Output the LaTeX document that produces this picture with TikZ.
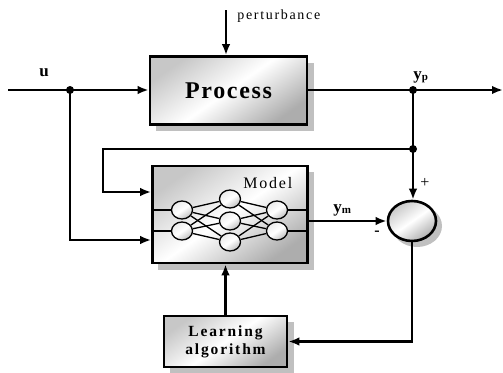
\documentclass[tikz,border=0pt]{standalone}
\usepackage{fontspec}
\setmainfont{Liberation Serif}
\newfontfamily\spfont[LetterSpace=12]{Liberation Serif}
\usetikzlibrary{arrows.meta,shapes.geometric}
\definecolor{shadowgray}{RGB}{192,192,192}
\begin{document}
\begin{tikzpicture}[x=1pt,y=-1pt,
  line width=2.8pt,
  arr/.style={-{Latex[length=11pt,width=8.5pt]}},
  box/.style={draw=black, line width=2.6pt, inner sep=0pt},
  boxshade/.style={top color=black!22, bottom color=black!32, middle color=white, shading angle=35, draw=none},
  neuron/.style={ellipse, draw=black, line width=1.3pt, minimum width=21pt, minimum height=18pt, inner sep=0pt, top color=black!8, bottom color=black!25, middle color=white, shading angle=35},
  nn/.style={line width=1.3pt},
  dot/.style={circle, fill=black, inner sep=0pt, minimum size=8pt},
  lbl/.style={inner sep=0pt}
]
\useasboundingbox (0,0) rectangle (503,372);

% shadows
\fill[shadowgray] (156,63) rectangle (314,131);
\fill[shadowgray] (158,172) rectangle (314,270);
\fill[shadowgray] (170,322) rectangle (294,373);
\fill[shadowgray] (417,226) ellipse (25 and 21);

% shaded faces
\shade[boxshade] (150,57) rectangle (307,124);
\shade[boxshade] (152.5,166) rectangle (307.5,263);
\shade[boxshade] (164,316) rectangle (287,367);
\shade[boxshade] (412,221) ellipse (24 and 20);

% blocks
\node[box, minimum width=157pt, minimum height=68pt] (process) at (228.5,90.5)
  {\spfont\addfontfeature{LetterSpace=7}\fontsize{24}{24}\selectfont\bfseries Process};
\node[box, minimum width=155pt, minimum height=97pt] (model) at (230,214.5) {};
\node[box, minimum width=123pt, minimum height=51pt, align=center,
  font=\spfont\fontsize{15.5}{18}\selectfont\bfseries] (learning) at (225.5,341.5)
  {Learning\\algorithm};
\node[box, ellipse, minimum width=48pt, minimum height=40pt] (sum) at (412,221) {};

% model label
\node[lbl, anchor=base west] (lmodel) at (242,188) {\spfont\addfontfeature{LetterSpace=11}\fontsize{16}{16}\selectfont Model};

% neural network
\node[neuron] (i1) at (182,210) {};
\node[neuron] (i2) at (182,231) {};
\node[neuron] (h1) at (230,199) {};
\node[neuron] (h2) at (230,221) {};
\node[neuron] (h3) at (230,242) {};
\node[neuron] (o1) at (277,210) {};
\node[neuron] (o2) at (277,231) {};
\foreach \a in {i1,i2} \foreach \b in {h1,h2,h3} \draw[nn] (\a) -- (\b);
\foreach \a in {h1,h2,h3} \foreach \b in {o1,o2} \draw[nn] (\a) -- (\b);
\draw[nn] (model.west |- i1) -- (i1);
\draw[nn] (model.west |- i2) -- (i2);
\draw[nn] (o1) -- (model.east |- o1);
\draw[nn] (o2) -- (model.east |- o2);

% coordinates
\coordinate (uin) at (8,90);
\coordinate (ju) at (70,90);
\coordinate (jp) at (413,90);
\coordinate (out) at (503,90);
\coordinate (jfb) at (413,149);
\coordinate (fbc) at (103,149);
\coordinate (pt) at (226,10);
\coordinate (ya) at (0,192);
\coordinate (yb) at (0,240);

% connectors
\draw (uin) -- (ju);
\draw[arr] (ju) -- (process.west |- ju);
\draw (process.east |- jp) -- (jp);
\draw[arr] (jp) -- (out);
\draw[arr] (pt) -- (pt |- process.north);
\draw (jp) -- (jfb);
\draw[arr] (jfb) -- (jfb |- sum.north);
\draw[arr] (jfb) -- (fbc) |- (model.west |- ya);
\draw[arr] (ju) |- (model.west |- yb);
\draw[arr] (model.east |- sum) -- (sum.west);
\draw[arr] (sum.south) |- (learning.east);
\draw[arr] (learning.north) -- (learning.north |- model.south);

% junction dots
\node[dot] (dju) at (ju) {};
\node[dot] (djp) at (jp) {};
\node[dot] (djfb) at (jfb) {};

% labels
\node[lbl] (lu) at (44,73) {\fontsize{17}{17}\selectfont\bfseries u};
\node[lbl, anchor=base west] (lyp) at (412,79) {\fontsize{17}{17}\selectfont\bfseries y\raisebox{-1pt}{\fontsize{11}{11}\selectfont p}};
\node[lbl, anchor=base west] (lym) at (332,212) {\fontsize{17}{17}\selectfont\bfseries y\raisebox{-1pt}{\fontsize{11}{11}\selectfont m}};
\node[lbl] (lplus) at (425,183) {\fontsize{16}{16}\selectfont +};
\node[lbl] (lminus) at (377,233) {\fontsize{16}{16}\selectfont\bfseries -};
\node[lbl, anchor=base west] (lpert) at (236,19) {\spfont\fontsize{14}{14}\selectfont perturbance};
\end{tikzpicture}
\end{document}
